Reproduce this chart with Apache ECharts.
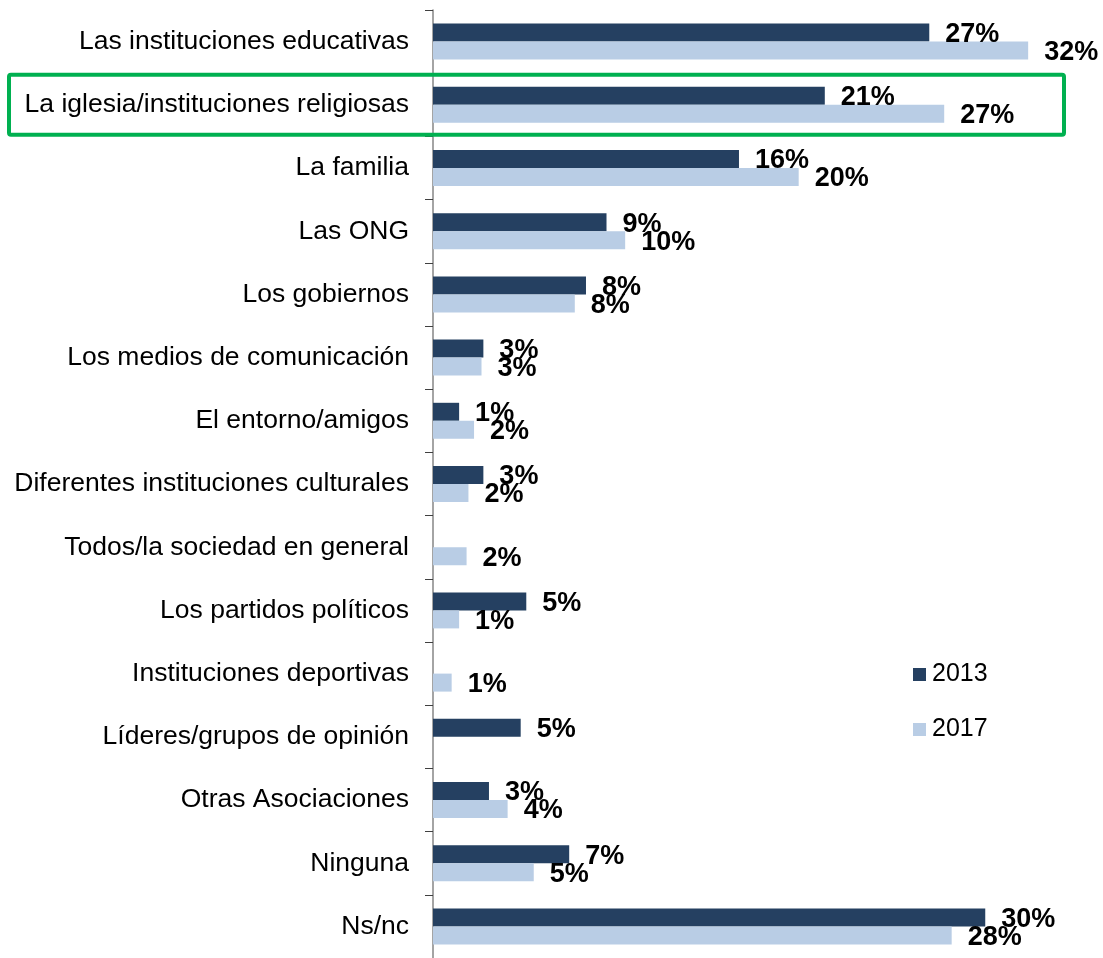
<!DOCTYPE html>
<html>
<head>
<meta charset="utf-8">
<script src="https://cdn.jsdelivr.net/npm/echarts@6/dist/echarts.min.js"></script>
<style>
  html, body { margin: 0; padding: 0; background: #fff; }
  #chart { width: 1103px; height: 958px; }
</style>
</head>
<body>
<div id="chart"></div>
<script>
const categories = [
  'Las instituciones educativas',
  'La iglesia/instituciones religiosas',
  'La familia',
  'Las ONG',
  'Los gobiernos',
  'Los medios de comunicación',
  'El entorno/amigos',
  'Diferentes instituciones culturales',
  'Todos/la sociedad en general',
  'Los partidos políticos',
  'Instituciones deportivas',
  'Líderes/grupos de opinión',
  'Otras Asociaciones',
  'Ninguna',
  'Ns/nc'
];
const seriesNames = ['2013', '2017'];
const values2013 = [26.6, 21.0, 16.4, 9.3, 8.2, 2.7, 1.4, 2.7, null, 5.0, null, 4.7, 3.0, 7.3, 29.6];
const values2017 = [31.9, 27.4, 19.6, 10.3, 7.6, 2.6, 2.2, 1.9, 1.8, 1.4, 1.0, null, 4.0, 5.4, 27.8];
const highlightedCategory = 'La iglesia/instituciones religiosas';

const FONT = 'Arial, "Liberation Sans", Helvetica, sans-serif';

const chart = echarts.init(document.getElementById('chart'), null, { renderer: 'canvas' });

const labelCfg = {
  show: true,
  position: 'right',
  distance: 16,
  offset: [0, 2],
  color: '#000',
  fontFamily: FONT,
  fontSize: 27,
  fontWeight: 'bold',
  formatter: p => (p.value == null ? '' : Math.round(p.value) + '%')
};

chart.setOption({
  animation: false,
  backgroundColor: '#ffffff',
  grid: { left: 433, right: 17, top: 10, bottom: -2, containLabel: false },
  xAxis: { type: 'value', min: 0, max: 35, show: false },
  yAxis: {
    type: 'category',
    data: categories,
    inverse: true,
    axisLine: { show: true, lineStyle: { color: '#868686', width: 1.5 } },
    axisTick: { show: true, length: 8, lineStyle: { color: '#404040', width: 1 } },
    axisLabel: { color: '#000', fontFamily: FONT, fontSize: 26.5, margin: 24 },
    splitLine: { show: false }
  },
  legend: {
    orient: 'vertical',
    left: 913,
    top: 662,
    padding: 0,
    itemWidth: 13,
    itemHeight: 13,
    itemGap: 30,
    icon: 'rect',
    textStyle: { color: '#000', fontFamily: FONT, fontSize: 25, padding: [0, 0, 0, 1] },
    data: seriesNames
  },
  series: [
    {
      name: seriesNames[0], type: 'bar', data: values2013,
      barWidth: 18, barGap: '0%',
      itemStyle: { color: '#254061' },
      label: labelCfg
    },
    {
      name: seriesNames[1], type: 'bar', data: values2017,
      barWidth: 18, barGap: '0%',
      itemStyle: { color: '#B9CDE5' },
      label: labelCfg
    }
  ]
});

// Green highlight box around the highlighted category row
const idx = categories.indexOf(highlightedCategory);
const cy = chart.convertToPixel({ yAxisIndex: 0 }, idx);
const cyNext = chart.convertToPixel({ yAxisIndex: 0 }, idx + 1);
const band = cyNext - cy;
const h = band - 3.3;
chart.setOption({
  graphic: [{
    type: 'rect',
    shape: { x: 9, y: cy - h / 2, width: 1055, height: h, r: 2 },
    style: { fill: 'none', stroke: '#00B050', lineWidth: 4 },
    z: 100
  }]
});
</script>
</body>
</html>
